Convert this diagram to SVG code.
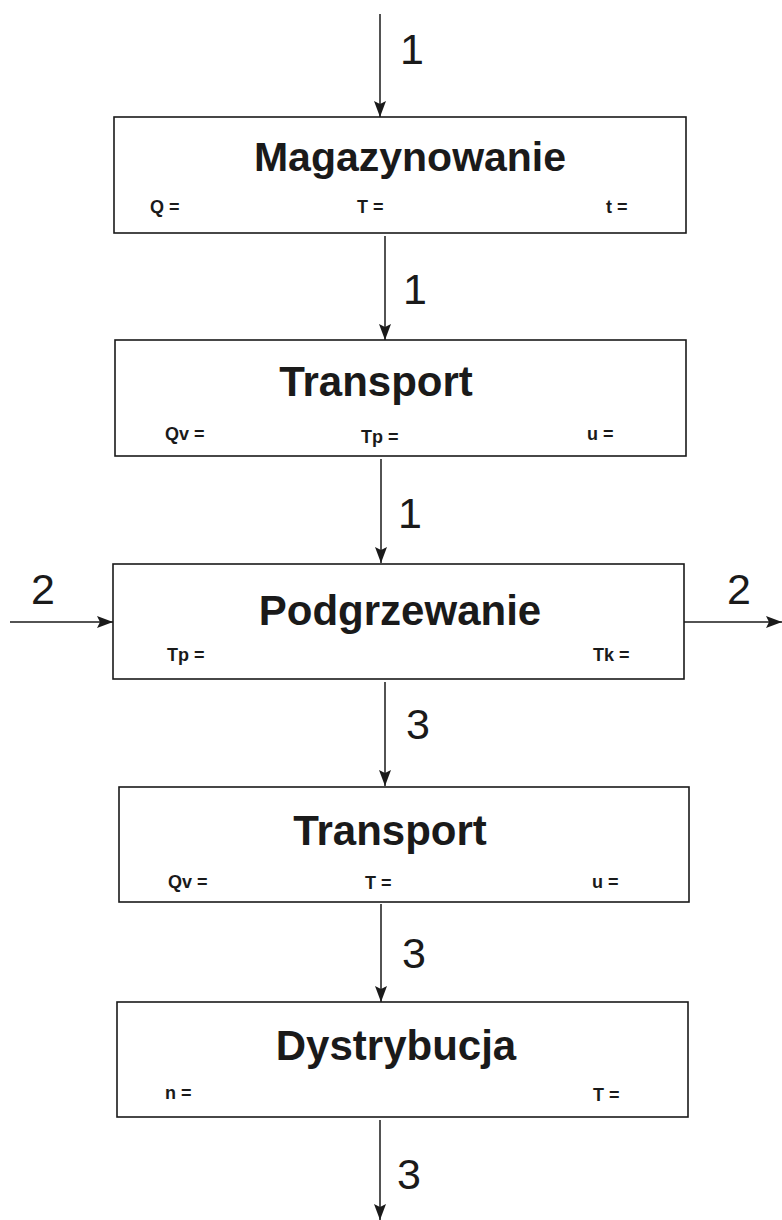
<svg xmlns="http://www.w3.org/2000/svg" width="782" height="1220" viewBox="0 0 782 1220">
<style>
.box{fill:#fff;stroke:#1a1a1a;stroke-width:1.6}
.title{font-family:"Liberation Sans",Arial,sans-serif;font-weight:bold;font-size:42px;fill:#1a1a1a;text-anchor:middle}
.var{font-family:"Liberation Sans",Arial,sans-serif;font-weight:bold;font-size:18px;fill:#1a1a1a}
.num{font-family:"Liberation Sans",Arial,sans-serif;font-size:43px;fill:#1a1a1a}
.line{stroke:#1a1a1a;stroke-width:1.5;fill:none;marker-end:url(#ah)}
</style>
<defs>
<marker id="ah" markerUnits="userSpaceOnUse" markerWidth="18" markerHeight="14" refX="16" refY="7" orient="auto">
<path d="M0,1 L16,7 L0,13 L3,7 Z" fill="#1a1a1a"/>
</marker>
</defs>
<rect width="782" height="1220" fill="#fff"/>
<g id="connectors">
<line class="line" x1="380" y1="14" x2="380" y2="117"/>
<text class="num" x="400" y="64">1</text>
<line class="line" x1="385" y1="236" x2="385" y2="340"/>
<text class="num" x="403" y="304">1</text>
<line class="line" x1="381" y1="459" x2="381" y2="563"/>
<text class="num" x="398" y="528">1</text>
<line class="line" x1="10" y1="622" x2="113" y2="622"/>
<text class="num" x="31" y="604">2</text>
<line class="line" x1="684" y1="622" x2="782" y2="622"/>
<text class="num" x="727" y="604">2</text>
<line class="line" x1="385" y1="682" x2="385" y2="786"/>
<text class="num" x="406" y="739">3</text>
<line class="line" x1="381" y1="904" x2="381" y2="1002"/>
<text class="num" x="402" y="968">3</text>
<line class="line" x1="380" y1="1120" x2="380" y2="1220"/>
<text class="num" x="397" y="1189">3</text>
</g>
<g id="magazynowanie">
<rect class="box" x="114" y="117" width="572" height="116"/>
<text class="title" x="410" y="171" style="font-size:41px">Magazynowanie</text>
<text class="var" x="150" y="213">Q =</text>
<text class="var" x="357" y="213">T =</text>
<text class="var" x="606" y="213">t =</text>
</g>
<g id="transport1">
<rect class="box" x="115" y="340" width="571" height="116"/>
<text class="title" x="376" y="396">Transport</text>
<text class="var" x="165" y="440">Qv =</text>
<text class="var" x="361" y="443">Tp =</text>
<text class="var" x="587" y="440">u =</text>
</g>
<g id="podgrzewanie">
<rect class="box" x="113" y="564" width="571" height="115"/>
<text class="title" x="400" y="625">Podgrzewanie</text>
<text class="var" x="167" y="661">Tp =</text>
<text class="var" x="593" y="661">Tk =</text>
</g>
<g id="transport2">
<rect class="box" x="119" y="787" width="570" height="115"/>
<text class="title" x="390" y="845">Transport</text>
<text class="var" x="168" y="888">Qv =</text>
<text class="var" x="365" y="889">T =</text>
<text class="var" x="592" y="888">u =</text>
</g>
<g id="dystrybucja">
<rect class="box" x="117" y="1002" width="571" height="115"/>
<text class="title" x="396" y="1060">Dystrybucja</text>
<text class="var" x="165" y="1099">n =</text>
<text class="var" x="593" y="1101">T =</text>
</g>
</svg>
